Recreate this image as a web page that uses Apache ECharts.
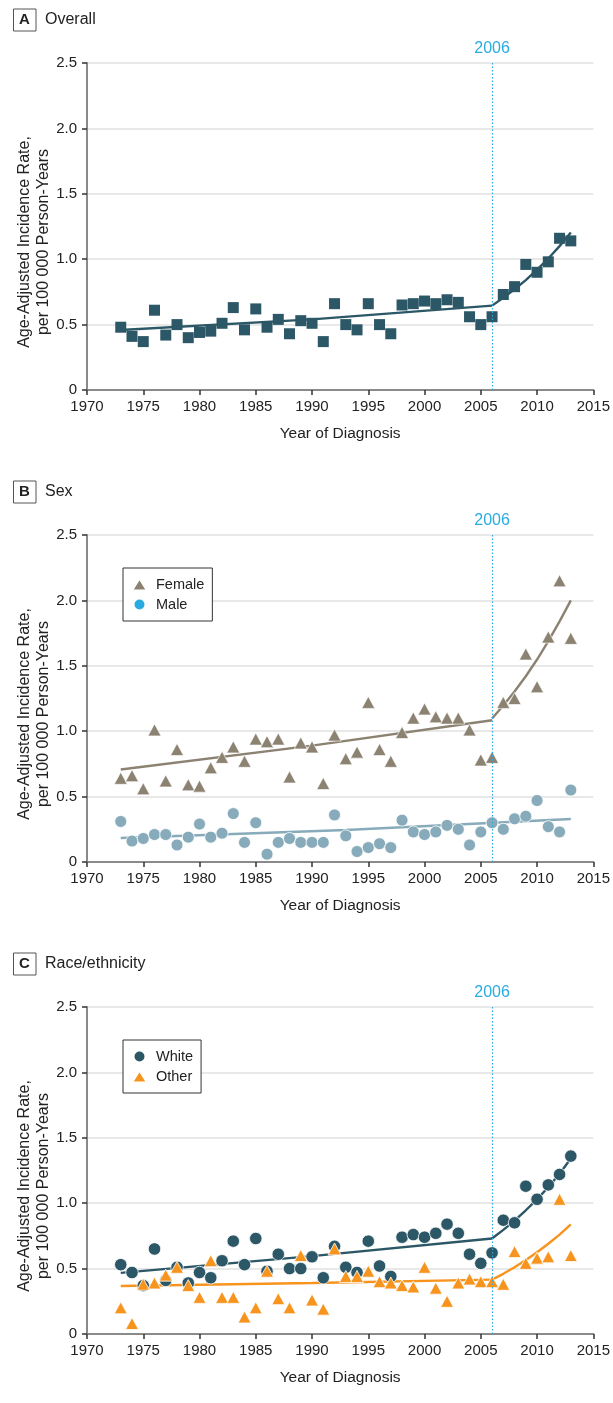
<!DOCTYPE html>
<html><head><meta charset="utf-8">
<script src="https://cdn.jsdelivr.net/npm/echarts@6/dist/echarts.min.js"></script>
<style>html,body{margin:0;padding:0;background:#fff}#c{width:613px;height:1403px}</style>
</head><body><div id="c"></div>
<script>
// ---------- data ----------
const years = [1973,1974,1975,1976,1977,1978,1979,1980,1981,1982,1983,1984,1985,1986,1987,1988,1989,1990,1991,1992,1993,1994,1995,1996,1997,1998,1999,2000,2001,2002,2003,2004,2005,2006,2007,2008,2009,2010,2011,2012,2013];
const overallRate = [0.48,0.41,0.37,0.61,0.42,0.50,0.40,0.44,0.45,0.51,0.63,0.46,0.62,0.48,0.54,0.43,0.53,0.51,0.37,0.66,0.50,0.46,0.66,0.50,0.43,0.65,0.66,0.68,0.66,0.69,0.67,0.56,0.50,0.56,0.73,0.79,0.96,0.90,0.98,1.16,1.14];
const femaleRate = [0.64,0.66,0.56,1.01,0.62,0.86,0.59,0.58,0.72,0.80,0.88,0.77,0.94,0.92,0.94,0.65,0.91,0.88,0.60,0.97,0.79,0.84,1.22,0.86,0.77,0.99,1.10,1.17,1.11,1.10,1.10,1.01,0.78,0.80,1.22,1.25,1.59,1.34,1.72,2.15,1.71];
const maleRate = [0.31,0.16,0.18,0.21,0.21,0.13,0.19,0.29,0.19,0.22,0.37,0.15,0.30,0.06,0.15,0.18,0.15,0.15,0.15,0.36,0.20,0.08,0.11,0.14,0.11,0.32,0.23,0.21,0.23,0.28,0.25,0.13,0.23,0.30,0.25,0.33,0.35,0.47,0.27,0.23,0.55];
const whiteRate = [0.53,0.47,0.37,0.65,0.41,0.51,0.39,0.47,0.43,0.56,0.71,0.53,0.73,0.48,0.61,0.50,0.50,0.59,0.43,0.67,0.51,0.47,0.71,0.52,0.44,0.74,0.76,0.74,0.77,0.84,0.77,0.61,0.54,0.62,0.87,0.85,1.13,1.03,1.14,1.22,1.36];
const otherRate = [0.20,0.08,0.38,0.39,0.45,0.51,0.37,0.28,0.56,0.28,0.28,0.13,0.20,0.48,0.27,0.20,0.60,0.26,0.19,0.65,0.44,0.44,0.48,0.40,0.39,0.37,0.36,0.51,0.35,0.25,0.39,0.42,0.40,0.40,0.38,0.63,0.54,0.58,0.59,1.03,0.60];

// joinpoint trend lines
const earlyTrendYears = [1973, 1990, 2006];
const lateTrendYears = [2006,2007,2008,2009,2010,2011,2012,2013];
const maleTrendYears = [1973, 1993, 2013];
const overallTrendEarly = [0.459, 0.54, 0.645];
const overallTrendLate = [0.645,0.705,0.77,0.84,0.92,1.005,1.10,1.205];
const femaleTrendEarly = [0.707, 0.89, 1.084];
const femaleTrendLate = [1.097,1.196,1.303,1.42,1.548,1.688,1.84,2.0];
const maleTrend = [0.184, 0.245, 0.329];
const whiteTrendEarly = [0.467, 0.595, 0.73];
const whiteTrendLate = [0.73,0.796,0.867,0.946,1.03,1.123,1.225,1.342];
const otherTrendEarly = [0.367, 0.39, 0.416];
const otherTrendLate = [0.416,0.46,0.51,0.565,0.625,0.69,0.76,0.838];

const cutYear = 2006;
const xTickValues = [1970,1975,1980,1985,1990,1995,2000,2005,2010,2015];
const xTickLabels = ['1970','1975','1980','1985','1990','1995','2000','2005','2010','2015'];
const yTickValues = [0,0.5,1,1.5,2,2.5];
const yTickLabels = ['0','0.5','1.0','1.5','2.0','2.5'];
const panelLetters = ['A','B','C'];
const panelTitles = ['Overall','Sex','Race/ethnicity'];
const yAxisTitle = 'Age-Adjusted Incidence Rate,\nper 100 000 Person-Years';
const xAxisTitle = 'Year of Diagnosis';

// ---------- style ----------
const FONT = "'Liberation Sans', Arial, sans-serif";
const C_TEAL = '#2c5766', C_TAUPE = '#8c8272', C_GREYBLUE = '#87abba', C_ORANGE = '#f7941e', C_BLUE = '#29abe2';
const PANEL_TOPS = [63, 535, 1007];
const PLOT_H = 327;

const pairs = (xs, ys) => xs.map((x, i) => [x, ys[i]]);

const grids = PANEL_TOPS.map(t => ({left: 87, right: 18, top: t, height: PLOT_H, containLabel: false}));

const xAxes = PANEL_TOPS.map((t, gi) => ({
  type: 'value', gridIndex: gi, min: 1970, max: 2015, interval: 5,
  axisLine: {show: true, onZero: false, lineStyle: {color: '#8a8a8a', width: 2}},
  axisTick: {show: true, length: 5, lineStyle: {color: '#333', width: 1.5}},
  axisLabel: {color: '#222', fontSize: 15, margin: 9, fontFamily: FONT,
    formatter: v => xTickLabels[xTickValues.indexOf(v)]},
  splitLine: {show: false},
  name: xAxisTitle, nameLocation: 'middle', nameGap: 36,
  nameTextStyle: {color: '#222', fontSize: 15.5, fontFamily: FONT}
}));

const yAxes = PANEL_TOPS.map((t, gi) => ({
  type: 'value', gridIndex: gi, min: 0, max: 2.5, interval: 0.5,
  axisLine: {show: true, lineStyle: {color: '#8a8a8a', width: 2}},
  axisTick: {show: true, length: 5, lineStyle: {color: '#333', width: 1.5}},
  axisLabel: {color: '#222', fontSize: 15, margin: 10, fontFamily: FONT,
    formatter: v => yTickLabels[yTickValues.findIndex(t => Math.abs(t - v) < 1e-9)]},
  splitLine: {show: true, lineStyle: {color: '#e0e0e0', width: 1.5}}
}));

const cutMark = {
  silent: true, symbol: ['none', 'none'],
  lineStyle: {color: C_BLUE, type: [1.5, 2], width: 1.2},
  label: {show: true, position: 'end', formatter: String(cutYear), color: C_BLUE,
    fontSize: 16, fontFamily: FONT, distance: 6},
  data: [{xAxis: cutYear}]
};

function trend(name, gi, xs, ys, color) {
  return {name, type: 'line', xAxisIndex: gi, yAxisIndex: gi, data: pairs(xs, ys),
    symbol: 'none', showSymbol: false, smooth: false, z: 2, silent: true,
    lineStyle: {color, width: 2.4}, itemStyle: {color}};
}
function scatter(name, gi, ys, color, symbol, size, border, extra) {
  return Object.assign({name, type: 'scatter', xAxisIndex: gi, yAxisIndex: gi,
    data: pairs(years, ys), symbol, symbolSize: size, z: 3, silent: true,
    itemStyle: {color, opacity: 1, borderColor: '#fff', borderWidth: border}}, extra || {});
}

const series = [
  trend('Overall trend 1', 0, earlyTrendYears, overallTrendEarly, C_TEAL),
  trend('Overall trend 2', 0, lateTrendYears, overallTrendLate, C_TEAL),
  scatter('Overall', 0, overallRate, C_TEAL, 'rect', 11, 0, {markLine: cutMark}),

  trend('Female trend 1', 1, earlyTrendYears, femaleTrendEarly, C_TAUPE),
  trend('Female trend 2', 1, lateTrendYears, femaleTrendLate, C_TAUPE),
  trend('Male trend', 1, maleTrendYears, maleTrend, C_GREYBLUE),
  scatter('Male', 1, maleRate, C_GREYBLUE, 'circle', 12, 0.8, {markLine: cutMark}),
  scatter('Female', 1, femaleRate, C_TAUPE, 'triangle', [13, 12], 0.6),

  trend('White trend 1', 2, earlyTrendYears, whiteTrendEarly, C_TEAL),
  trend('White trend 2', 2, lateTrendYears, whiteTrendLate, C_TEAL),
  trend('Other trend 1', 2, earlyTrendYears, otherTrendEarly, C_ORANGE),
  trend('Other trend 2', 2, lateTrendYears, otherTrendLate, C_ORANGE),
  scatter('White', 2, whiteRate, C_TEAL, 'circle', 12.5, 0.8, {markLine: cutMark}),
  scatter('Other', 2, otherRate, C_ORANGE, 'triangle', [13, 12], 0.8)
];

function legendBox(top, items) {
  return {
    orient: 'vertical', left: 123, top, data: items,
    backgroundColor: '#fff', borderColor: '#333', borderWidth: 1,
    padding: [9, 8, 9, 8], itemGap: 5, itemWidth: 15, itemHeight: 12,
    selectedMode: false,
    textStyle: {color: '#222', fontSize: 14.5, fontFamily: FONT, padding: [0, 0, 0, 4], lineHeight: 15}
  };
}
const legends = [
  legendBox(568, [{name: 'Female', icon: 'triangle'}, {name: 'Male', icon: 'circle', itemStyle: {color: C_BLUE}}]),
  legendBox(1040, [{name: 'White', icon: 'circle'}, {name: 'Other', icon: 'triangle'}])
];

const graphic = [];
PANEL_TOPS.forEach((t, i) => {
  const off = t - 63;
  graphic.push({type: 'rect', left: 13, top: 8.5 + off, shape: {width: 22.5, height: 22},
    style: {fill: '#fff', stroke: '#555', lineWidth: 1}});
  graphic.push({type: 'text', x: 24.5, y: 19.5 + off, style: {text: panelLetters[i], fill: '#222',
    font: "bold 15px " + FONT, align: 'center', verticalAlign: 'middle'}});
  graphic.push({type: 'text', x: 45, y: 19.5 + off, style: {text: panelTitles[i], fill: '#222',
    font: "16px " + FONT, align: 'left', verticalAlign: 'middle'}});
  graphic.push({type: 'text', x: 34.5, y: 242 + off, rotation: Math.PI / 2,
    style: {text: yAxisTitle, fill: '#222', font: "16px " + FONT, align: 'center',
      verticalAlign: 'middle', lineHeight: 19}});
});

const chart = echarts.init(document.getElementById('c'), null, {renderer: 'canvas'});
chart.setOption({
  animation: false, backgroundColor: '#fff',
  textStyle: {fontFamily: FONT},
  grid: grids, xAxis: xAxes, yAxis: yAxes, legend: legends, series, graphic
});
</script></body></html>
